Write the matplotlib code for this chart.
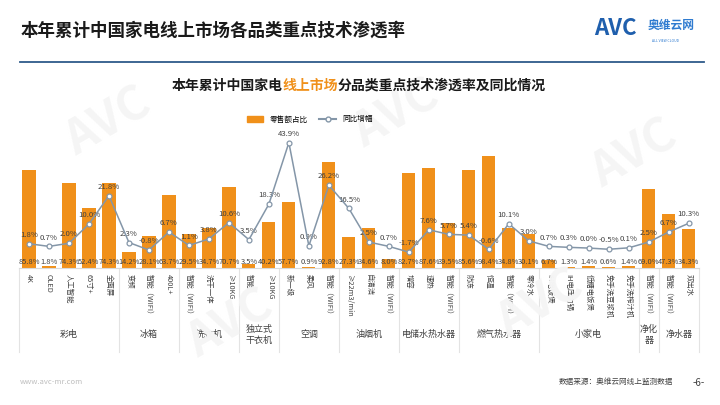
import matplotlib.pyplot as plt
from matplotlib.lines import Line2D
from matplotlib.patches import Patch

plt.rcParams['font.family'] = ['Noto Sans CJK SC', 'DejaVu Sans']

# data
labels = ['4K', 'OLED', '人工智能', '65寸+', '全面屏',
          '变频', '智能（WIFI）', '400L+',
          '智能（WIFI）', '洗干一体', '≥10KG',
          '智能', '≥10KG',
          '新一级', '柔风', '智能（WIFI）',
          '≥22m3/min', '自清洁', '智能（WIFI）',
          '增容', '速热', '智能（WIFI）',
          '防冻', '恒温', '智能（WIFI）', '零冷水',
          'IH电饭煲', 'IH电压力锅', '低糖电饭煲', '免手洗豆浆机', '免手洗榨汁机',
          '智能（WIFI）',
          '智能（WIFI）', '双出水']
share = [85.8, 1.8, 74.3, 52.4, 74.3,
         14.2, 28.1, 63.7,
         29.5, 34.7, 70.7,
         3.5, 40.2,
         57.7, 0.9, 92.8,
         27.3, 34.6, 8.0,
         82.7, 87.6, 39.5,
         85.6, 98.4, 34.8, 30.1,
         6.7, 1.3, 1.4, 0.6, 1.4,
         69.0,
         47.3, 34.3]
growth = [1.8, 0.7, 2.0, 10.0, 21.8,
          2.3, -0.8, 6.7,
          1.1, 3.8, 10.6,
          3.5, 18.3,
          43.9, 0.9, 26.2,
          16.5, 2.5, 0.7,
          -1.7, 7.6, 5.7,
          5.4, -0.6, 10.1, 3.0,
          0.7, 0.3, 0.0, -0.5, 0.1,
          2.5,
          6.7, 10.3]
groups = ['彩电', '冰箱', '洗衣机', '独立式\n干衣机', '空调', '油烟机',
          '电储水热水器', '燃气热水器', '小家电', '净化\n器', '净水器']
group_sizes = [5, 3, 3, 2, 3, 3, 3, 4, 5, 1, 2]

orange = '#F0901A'
linec = '#8496A8'
txt = '#404040'

fig = plt.figure(figsize=(7.2, 4.05), dpi=100)

# page header
fig.text(0.028, 0.925, '本年累计中国家电线上市场各品类重点技术渗透率', fontsize=12.6,
         fontweight='bold', color='#1a1a1a', va='center')
fig.add_artist(Line2D([0.028, 0.978], [0.847, 0.847], color='#2E5B8A', lw=1.3))
fig.text(0.825, 0.93, 'AVC', fontsize=16, fontweight='bold', fontstyle='italic',
         color='#1F5FAD', va='center')
fig.text(0.9, 0.937, '奥维云网', fontsize=8.5, fontweight='bold', color='#2F7BD0', va='center')
fig.text(0.905, 0.9, 'ALL VIEW CLOUD', fontsize=2.5, color='#2F7BD0', va='center')

# faint watermarks
for wx, wy in [(0.15, 0.7), (0.55, 0.72), (0.88, 0.62), (0.32, 0.2), (0.75, 0.25)]:
    fig.text(wx, wy, 'AVC', fontsize=34, fontweight='bold', fontstyle='italic',
             color='#F5F5F5', rotation=30, ha='center', va='center', zorder=0)

# chart title with highlighted part
ty = 0.778
t1 = fig.text(0.238, ty, '本年累计中国家电', fontsize=10, fontweight='bold', color='#1a1a1a')
t2 = fig.text(0, 0, '线上市场', fontsize=10, fontweight='bold', color=orange)
t3 = fig.text(0, 0, '分品类重点技术渗透率及同比情况', fontsize=10, fontweight='bold', color='#1a1a1a')
fig.canvas.draw()
r = fig.canvas.get_renderer()
bb = t1.get_window_extent(r)
t2.set_position((bb.x1 / fig.bbox.width, ty))
bb = t2.get_window_extent(r)
t3.set_position((bb.x1 / fig.bbox.width, ty))

ax = fig.add_axes([0.0264, 0.3383, 0.944, 0.316])
ax.patch.set_alpha(0)
ax2 = ax.twinx()
x = list(range(len(labels)))

ax.bar(x, share, width=0.66, color=orange, zorder=2)
ax.set_ylim(0, 112)
ax.set_xlim(-0.5, len(labels) - 0.5)
for i, v in enumerate(share):
    ax.text(i, 5, f'{v:.1f}%', ha='center', va='center', fontsize=5.4, color=txt, zorder=3)

ax2.plot(x, growth, color=linec, lw=1.1, marker='o', ms=3.5, mfc='white',
         mec=linec, mew=0.9, zorder=4)
ax2.set_ylim(-8.3, 45)
for i, v in enumerate(growth):
    ax2.annotate(f'{v:.1f}%', (i, v), xytext=(0, 3.5), textcoords='offset points',
                 ha='center', va='bottom', fontsize=5.6, color=txt)

for a in (ax, ax2):
    for s in a.spines.values():
        s.set_visible(False)
    a.set_yticks([])
ax.spines['bottom'].set_visible(True)
ax.spines['bottom'].set_color('#D9D9D9')
ax.set_xticks(x)
ax.set_xticklabels(labels, rotation=-90, fontsize=5.3, color=txt)
ax.tick_params(axis='x', length=0, pad=4)

# group labels and separators under the axis
tr = ax.get_xaxis_transform()
edges = [-0.5]
for n in group_sizes:
    edges.append(edges[-1] + n)
for e in edges:
    ax.plot([e, e], [0, -0.66], transform=tr, color='#E3E3E3', lw=0.8, clip_on=False)
for g, a0, a1 in zip(groups, edges[:-1], edges[1:]):
    ax.text((a0 + a1) / 2, -0.52, g, transform=tr, ha='center', va='center',
            fontsize=6.5, color=txt, linespacing=1.3)

handles = [Patch(color=orange, label='零售额占比'),
           Line2D([], [], color=linec, marker='o', mfc='white', mec=linec, ms=3.5, label='同比增幅')]
fig.legend(handles=handles, loc='center', bbox_to_anchor=(0.43, 0.705), ncol=2,
           frameon=False, fontsize=5.5, handlelength=2.2, columnspacing=1.5, handleheight=0.9)

# footer
fig.text(0.028, 0.058, 'www.avc-mr.com', fontsize=5.5, color='#BFBFBF', va='center')
fig.text(0.935, 0.058, '数据来源：奥维云网线上监测数据', fontsize=5.5, color=txt,
         ha='right', va='center')
fig.text(0.97, 0.055, '-6-', fontsize=7, color=txt, ha='center', va='center')

fig.savefig('out.png', dpi=100)
